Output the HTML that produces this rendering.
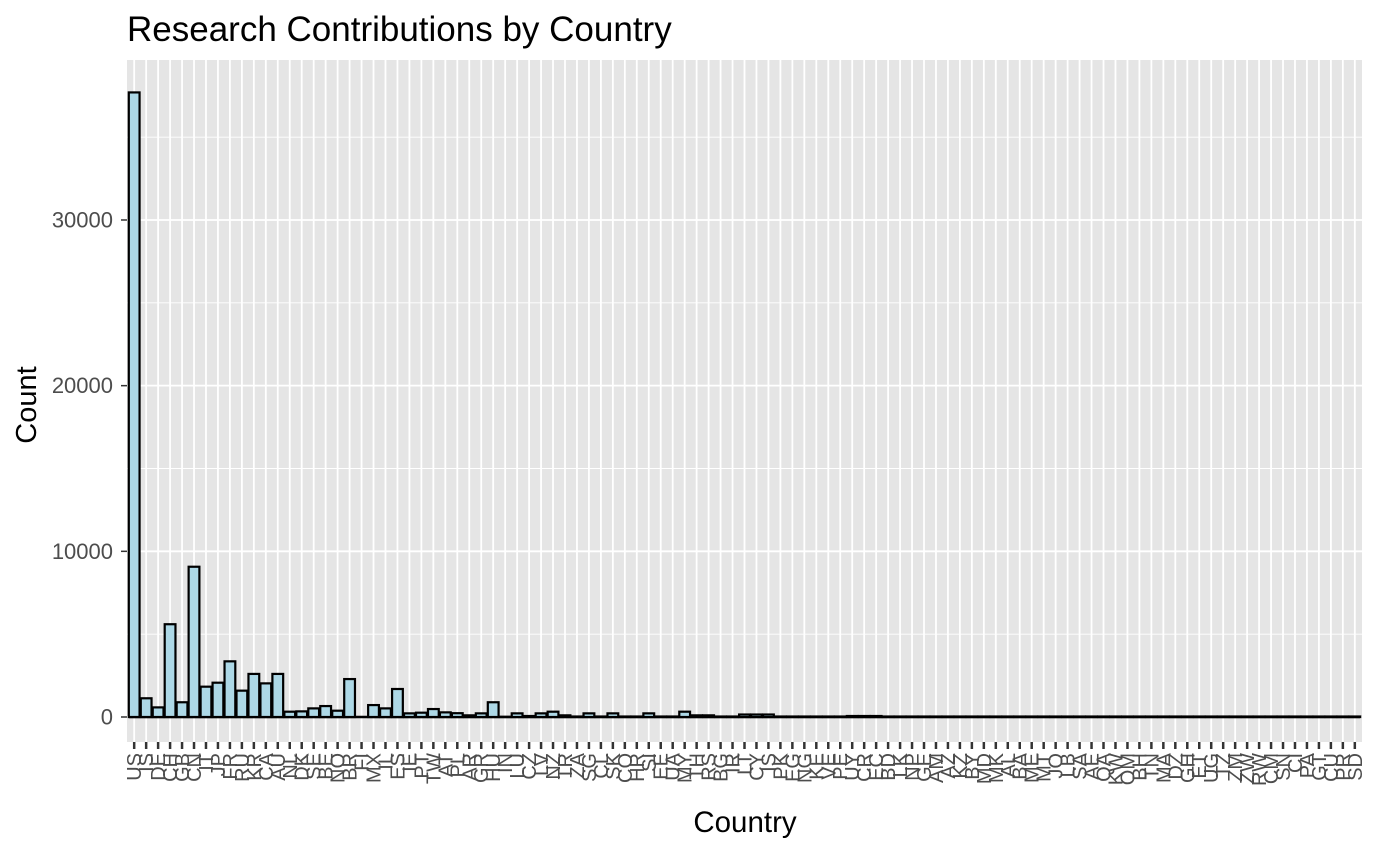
<!DOCTYPE html>
<html><head><meta charset="utf-8"><style>
body{margin:0;background:#fff;}
svg text{font-family:"Liberation Sans",Arial,sans-serif;}
</style></head><body>
<svg id="chart" width="1376" height="850" viewBox="0 0 1376 850" xmlns="http://www.w3.org/2000/svg">
<text x="127" y="41" font-size="35" fill="#000">Research Contributions by Country</text>
<rect x="127" y="60" width="1235" height="682" fill="#e5e5e5"/>
<g id="grid"></g><g id="bars"></g><g id="axes"></g>
<text transform="translate(36,405) rotate(-90)" text-anchor="middle" font-size="29" fill="#000">Count</text>
<text x="745" y="832" text-anchor="middle" font-size="29.5" fill="#000">Country</text>
</svg>
<script>
const categories=["US","IS","DE","CH","GB","CN","IT","JP","FR","RU","KR","CA","AU","NL","DK","SE","BE","NO","BR","FI","MX","IL","ES","IE","PT","TW","AT","PL","AR","GR","HU","IN","LU","CZ","LV","NZ","TR","ZA","SG","CL","SK","CO","HR","SI","EE","UA","MY","TH","RS","BG","IR","LT","CY","IS2","PK","EG","NG","KE","VE","PE","UY","CR","EC","BD","LK","NP","GE","AM","AZ","KZ","BY","MD","MK","AL","BA","ME","MT","JO","LB","SA","AE","QA","KW","OM","BH","TN","MA","DZ","GH","ET","UG","TZ","ZM","ZW","RW","CM","SN","CI","PA","GT","CU","PR","SD"];
const values=[37700,1130,580,5600,890,9070,1830,2070,3360,1590,2600,2030,2600,320,340,520,660,380,2290,0,720,520,1690,220,260,480,280,230,100,220,890,10,220,60,220,320,100,30,220,30,220,30,30,220,30,30,320,100,100,30,30,150,150,150,30,30,30,30,30,30,60,60,60,30,30,30,30,30,30,30,30,30,30,30,30,30,30,30,30,30,30,30,30,30,30,30,30,30,30,30,30,30,30,30,30,30,30,30,30,30,30,30,30];
const yTicks=[0,10000,20000,30000];
const yMinor=[5000,15000,25000,35000];
const NS="http://www.w3.org/2000/svg";
const L=127,R=1362,T=60,B=742,n=categories.length;
const step=(R-L)/(n+0.2);
const x=i=>L+step*(0.6+i);
const y=v=>717-v*0.016567;
function mk(tag,at,parent){const e=document.createElementNS(NS,tag);for(const k in at)e.setAttribute(k,at[k]);document.getElementById(parent).appendChild(e);return e;}
yMinor.forEach(v=>{const e=mk('line',{x1:L,x2:R,y1:y(v),y2:y(v),stroke:'#fff','stroke-width':0.9},'grid');

});
yTicks.forEach(v=>{const e=mk('line',{x1:L,x2:R,y1:y(v),y2:y(v),stroke:'#fff','stroke-width':1.8},'grid');


const t=mk('text',{x:113,y:y(v)+7.5,'text-anchor':'end','font-size':22,fill:'#4d4d4d'},'axes');t.textContent=v;


const tk=mk('line',{x1:121,x2:127,y1:y(v),y2:y(v),stroke:'#333','stroke-width':1.5},'axes');

});
categories.forEach((c,i)=>{const g=mk('line',{x1:x(i),x2:x(i),y1:T,y2:B,stroke:'#fff','stroke-width':1.8},'grid');

});
mk('line',{x1:x(0)-step*0.45,x2:x(n-1)+step*0.45,y1:y(0),y2:y(0),stroke:'#000','stroke-width':2.4},'bars');
categories.forEach((c,i)=>{const w=step*0.9,v=values[i];
const b=mk('rect',{x:x(i)-w/2,y:y(v),width:w,height:Math.max(0,y(0)-y(v)),fill:'#add8e6',stroke:'#000','stroke-width':2.2},'bars');


const tk=mk('line',{x1:x(i),x2:x(i),y1:B,y2:B+7,stroke:'#333','stroke-width':2.5},'axes');


const t=mk('text',{transform:`translate(${x(i)+7},753) rotate(-90)`,'text-anchor':'end','font-size':20,fill:'#4d4d4d'},'axes');t.textContent=c.replace('2','');

});
</script>
</body></html>
